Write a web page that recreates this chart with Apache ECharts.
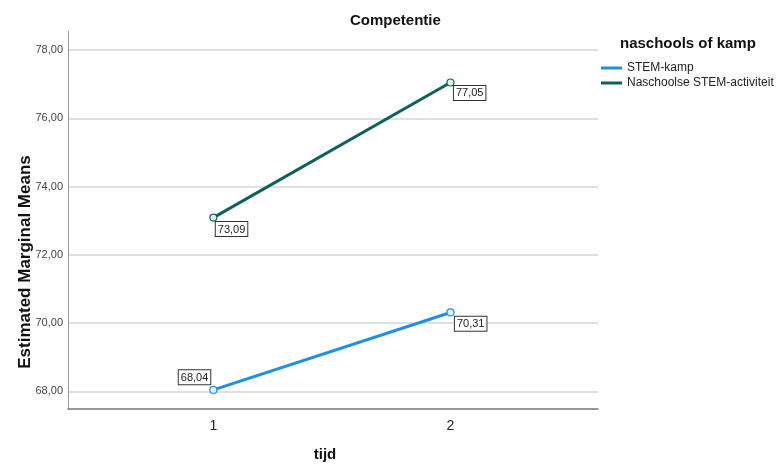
<!DOCTYPE html>
<html>
<head>
<meta charset="utf-8">
<script src="https://cdn.jsdelivr.net/npm/echarts@6/dist/echarts.min.js"></script>
<style>
  html, body { margin: 0; padding: 0; background: #fff; }
  #chart { width: 779px; height: 464px; }
</style>
</head>
<body>
<div id="chart"></div>
<script>
// Time points (tijd) and estimated marginal means per group
const tijd = [1, 2];
const stemKamp = [68.04, 70.31];
const naschoolse = [73.09, 77.05];
const seriesNames = ['STEM-kamp', 'Naschoolse STEM-activiteit'];
const seriesColors = ['#1e8fe6', '#0f615b'];
const yTicks = [68, 70, 72, 74, 76, 78];

const fmt = v => v.toFixed(2).replace('.', ',');
const font = 'Arial, "Liberation Sans", sans-serif';

const labelBox = {
  show: true,
  formatter: p => fmt(p.value[1]),
  fontFamily: font,
  fontSize: 11,
  color: '#222',
  backgroundColor: '#fff',
  borderColor: '#333',
  borderWidth: 1,
  padding: [2, 2, 1, 2]
};

// Label offsets relative to each point's marker
const stemLabelPos = [[-30.5, -15.5], [8.5, 8.5]];
const naschoolseLabelPos = [[6.5, 8.5], [7.5, 7.5]];

const chart = echarts.init(document.getElementById('chart'), null, { renderer: 'canvas' });
chart.setOption({
  animation: false,
  textStyle: { fontFamily: font },
  title: {
    text: 'Competentie',
    left: 345, top: 8,
    textStyle: { fontFamily: font, fontSize: 15, fontWeight: 'bold', color: '#111' }
  },
  legend: {
    orient: 'vertical',
    left: 596, top: 57,
    itemWidth: 21, itemHeight: 3, itemGap: 3,
    icon: 'rect',
    textStyle: { fontFamily: font, fontSize: 12, color: '#222' },
    data: seriesNames.map((n, i) => ({
      name: n,
      itemStyle: { color: seriesColors[i], borderWidth: 0 }
    }))
  },
  grid: { left: 68, right: 181, top: 31, bottom: 55 },
  xAxis: {
    type: 'value',
    min: 0.387, max: 2.622,
    axisLine: { show: true, lineStyle: { color: '#777', width: 1.5 } },
    axisTick: { show: false },
    splitLine: { show: false },
    axisLabel: {
      customValues: tijd,
      formatter: v => String(v),
      fontFamily: font, fontSize: 14, color: '#222', margin: 10
    }
  },
  yAxis: {
    type: 'value',
    min: 67.48, max: 78.56,
    axisLine: { show: true, lineStyle: { color: '#999', width: 1 } },
    axisTick: { show: false, customValues: yTicks },
    splitLine: { show: true, lineStyle: { color: '#d6d6d6', width: 1.5 } },
    axisLabel: {
      customValues: yTicks,
      formatter: v => fmt(v),
      fontFamily: font, fontSize: 11, color: '#444', margin: 5
    }
  },
  graphic: [
    {
      type: 'text',
      left: 620, top: 36,
      style: { text: 'naschools of kamp', font: 'bold 15px ' + font, fill: '#111' }
    },
    {
      type: 'text',
      x: 17, y: 262, rotation: Math.PI / 2,
      style: {
        text: 'Estimated Marginal Means', font: 'bold 17px ' + font, fill: '#111',
        align: 'center', verticalAlign: 'top'
      }
    },
    {
      type: 'text',
      x: 325, y: 447,
      style: { text: 'tijd', font: 'bold 15px ' + font, fill: '#111', align: 'center' }
    }
  ],
  series: [
    {
      name: seriesNames[0],
      type: 'line',
      data: tijd.map((t, i) => ({ value: [t, stemKamp[i]], label: { position: stemLabelPos[i] } })),
      color: seriesColors[0],
      lineStyle: { width: 3, color: seriesColors[0] },
      symbol: 'circle', symbolSize: 7,
      itemStyle: { color: '#e8f3fc', borderColor: seriesColors[0], borderWidth: 1.2 },
      label: labelBox,
      z: 3
    },
    {
      name: seriesNames[1],
      type: 'line',
      data: tijd.map((t, i) => ({ value: [t, naschoolse[i]], label: { position: naschoolseLabelPos[i] } })),
      color: seriesColors[1],
      lineStyle: { width: 3, color: seriesColors[1] },
      symbol: 'circle', symbolSize: 7,
      itemStyle: { color: '#e6f0ef', borderColor: seriesColors[1], borderWidth: 1.2 },
      label: labelBox,
      z: 3
    }
  ]
});
</script>
</body>
</html>
